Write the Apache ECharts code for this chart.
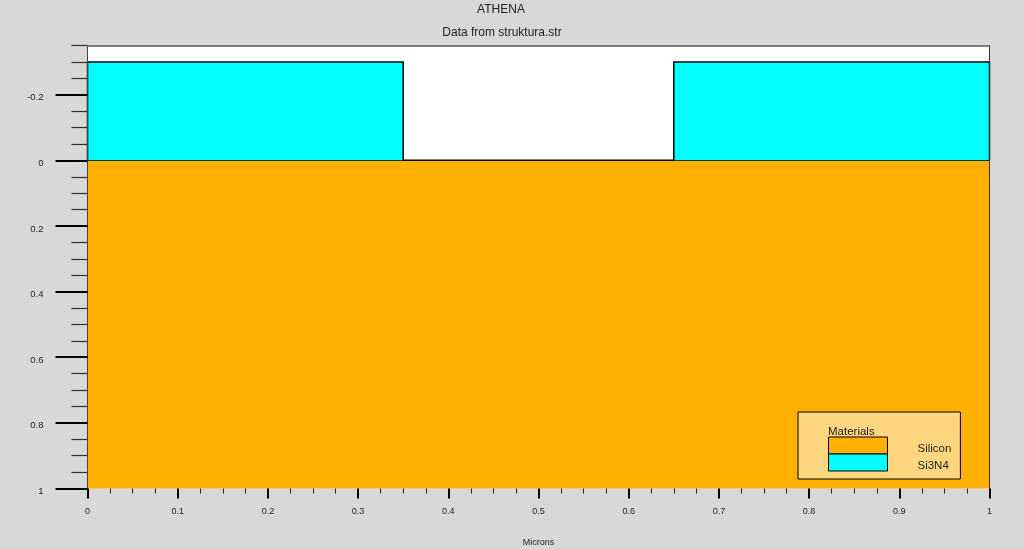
<!DOCTYPE html>
<html>
<head>
<meta charset="utf-8">
<style>
  html, body { margin: 0; padding: 0; background: #d8d8d8; }
  #main { width: 1024px; height: 549px; }
</style>
<script src="https://cdn.jsdelivr.net/npm/echarts@6/dist/echarts.min.js"></script>
</head>
<body>
<div id="main"></div>
<script>
// regions as [x0, x1, yTop, yBottom] in microns
var siliconRegions = [[0, 1, 0, 1]];
var nitrideRegions = [[0, 0.35, -0.3, 0], [0.65, 1, -0.3, 0]];
var materialNames = ["Silicon", "Si3N4"];
var yMajorTicks = [-0.2, 0, 0.2, 0.4, 0.6, 0.8, 1];
var yMinorTicks = [-0.35, -0.3, -0.25, -0.15, -0.1, -0.05, 0.05, 0.1, 0.15, 0.25, 0.3, 0.35, 0.45, 0.5, 0.55, 0.65, 0.7, 0.75, 0.85, 0.9, 0.95];

var font = "'Liberation Sans', Arial, sans-serif";

function drawRegion(params, api) {
  var a = api.coord([api.value(0), api.value(2)]);
  var b = api.coord([api.value(1), api.value(3)]);
  var color = api.visual("color");
  return {
    type: "group",
    children: [
      {
        type: "rect",
        shape: { x: a[0], y: a[1], width: b[0] - a[0], height: b[1] - a[1] },
        style: { fill: color },
      },
      {
        // left, top, right edges only, the base sits on the substrate line
        type: "polyline",
        shape: {
          points: params.seriesName === "Si3N4"
            ? [[a[0], b[1]], [a[0], a[1]], [b[0], a[1]], [b[0], b[1]]]
            : [[a[0], a[1]], [b[0], a[1]]],
        },
        style: { fill: null, stroke: "#000", lineWidth: 1.5 },
      },
    ],
  };
}

var chart = echarts.init(document.getElementById("main"));

chart.setOption({
  animation: false,
  backgroundColor: "#d8d8d8",
  textStyle: { fontFamily: font },
  title: [
    {
      text: "ATHENA",
      left: 501,
      top: -1,
      textAlign: "center",
      textStyle: { fontSize: 12, fontWeight: "normal", color: "#222", fontFamily: font, align: "center" },
      padding: [5, 0],
    },
    {
      text: "Data from struktura.str",
      left: 502,
      top: 22,
      textAlign: "center",
      textStyle: { fontSize: 12, fontWeight: "normal", color: "#222", fontFamily: font, align: "center" },
      padding: [5, 0],
    },
    {
      text: "Materials",
      left: 828,
      top: 426,
      z: 10,
      padding: 0,
      textStyle: { fontSize: 11.5, fontWeight: "normal", color: "#222", fontFamily: font },
    },
  ],
  legend: {
    data: materialNames,
    orient: "vertical",
    left: 798,
    top: 412,
    padding: [24, 9, 7, 30],
    itemWidth: 59,
    itemHeight: 17,
    itemGap: -2,
    icon: "rect",
    selectedMode: false,
    backgroundColor: "#ffd680",
    borderColor: "#000",
    borderWidth: 1,
    itemStyle: { borderColor: "#000", borderWidth: 1 },
    // empty first line drops the name a little below the swatch centre
    formatter: "\n{name}",
    textStyle: { fontSize: 11.5, lineHeight: 7, color: "#222", padding: [0, 0, 0, 25], fontFamily: font },
  },
  grid: {
    left: 87.5,
    right: 34.5,
    top: 45.5,
    bottom: 60.5,
    show: true,
    backgroundColor: "#fff",
    borderWidth: 0,
    outerBoundsMode: "none",
  },
  xAxis: [
    {
      type: "value",
      min: 0,
      max: 1,
      interval: 0.1,
      z: 5,
      name: "Microns",
      nameLocation: "middle",
      nameGap: 50,
      nameTextStyle: { fontSize: 9, color: "#222", fontFamily: font },
      axisLine: { show: false, onZero: false },
      axisTick: { length: 10, lineStyle: { color: "#000", width: 2 } },
      minorTick: { show: true, splitNumber: 4, length: 5, lineStyle: { color: "#222", width: 1 } },
      axisLabel: { fontSize: 9, color: "#222", margin: 19, fontFamily: font },
      splitLine: { show: false },
    },
    {
      // frame along the top
      type: "value",
      position: "top",
      min: 0,
      max: 1,
      z: 5,
      axisLine: { show: true, onZero: false, lineStyle: { color: "#555", width: 1.5 } },
      axisTick: { show: false },
      axisLabel: { show: false },
      splitLine: { show: false },
    },
  ],
  yAxis: [
    {
      type: "value",
      inverse: true,
      min: -0.35,
      max: 1,
      z: 5,
      axisLine: { show: true, onZero: false, lineStyle: { color: "#444", width: 1 } },
      axisTick: { length: 32, customValues: yMajorTicks, lineStyle: { color: "#000", width: 2 } },
      axisLabel: {
        customValues: yMajorTicks,
        fontSize: 9.5,
        color: "#222",
        margin: 44,
        verticalAlign: "top",
        lineHeight: 6,
        hideOverlap: false,
        showMinLabel: true,
        showMaxLabel: true,
        fontFamily: font,
      },
      splitLine: { show: false },
    },
    {
      // minor ticks, same scale
      type: "value",
      inverse: true,
      position: "left",
      min: -0.35,
      max: 1,
      axisLine: { show: false, onZero: false },
      axisTick: { length: 16, customValues: yMinorTicks, lineStyle: { color: "#333", width: 1.2 } },
      axisLabel: { show: false },
      splitLine: { show: false },
    },
    {
      // frame along the right side
      type: "value",
      inverse: true,
      position: "right",
      min: -0.35,
      max: 1,
      z: 5,
      axisLine: { show: true, onZero: false, lineStyle: { color: "#333", width: 1 } },
      axisTick: { show: false },
      axisLabel: { show: false },
      splitLine: { show: false },
    },
  ],
  series: [
    {
      name: "Silicon",
      type: "custom",
      renderItem: drawRegion,
      itemStyle: { color: "#ffb000" },
      encode: { x: [0, 1], y: [2, 3] },
      data: siliconRegions,
      z: 2,
    },
    {
      name: "Si3N4",
      type: "custom",
      renderItem: drawRegion,
      itemStyle: { color: "#00ffff" },
      encode: { x: [0, 1], y: [2, 3] },
      data: nitrideRegions,
      z: 3,
    },
  ],
});
</script>
</body>
</html>
